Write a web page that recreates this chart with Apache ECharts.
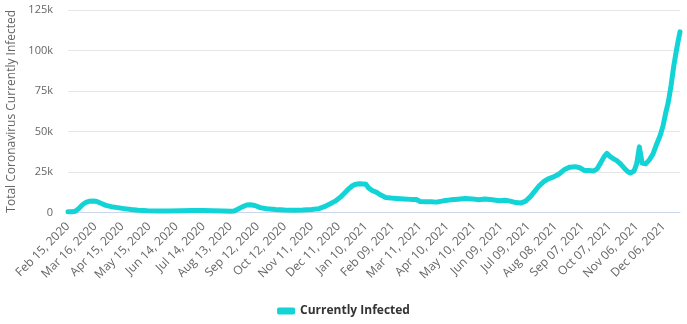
<!DOCTYPE html>
<html>
<head>
<meta charset="utf-8">
<script src="https://cdn.jsdelivr.net/npm/echarts@6/dist/echarts.min.js"></script>
<style>
html,body{margin:0;padding:0;background:#fff;}
#chart{width:687px;height:324px;}
</style>
</head>
<body>
<div id="chart"></div>
<script>
const startDate = '2020-02-15';
const endDate = '2021-12-24';
const tickLabels = ['Feb 15, 2020','Mar 16, 2020','Apr 15, 2020','May 15, 2020','Jun 14, 2020','Jul 14, 2020','Aug 13, 2020','Sep 12, 2020','Oct 12, 2020','Nov 11, 2020','Dec 11, 2020','Jan 10, 2021','Feb 09, 2021','Mar 11, 2021','Apr 10, 2021','May 10, 2021','Jun 09, 2021','Jul 09, 2021','Aug 08, 2021','Sep 07, 2021','Oct 07, 2021','Nov 06, 2021','Dec 06, 2021'];
const yTicks = [0, 25000, 50000, 75000, 100000, 125000];
const seriesName = 'Currently Infected';
const sampleDates = ['2020-02-15','2020-02-20','2020-02-23','2020-02-27','2020-03-02','2020-03-06','2020-03-10','2020-03-14','2020-03-18','2020-03-23','2020-03-28','2020-04-03','2020-04-10','2020-04-17','2020-04-25','2020-05-03','2020-05-13','2020-05-25','2020-06-06','2020-06-19','2020-07-02','2020-07-14','2020-07-24','2020-08-05','2020-08-13','2020-08-17','2020-08-21','2020-08-26','2020-08-31','2020-09-04','2020-09-09','2020-09-15','2020-09-22','2020-10-02','2020-10-12','2020-10-22','2020-11-01','2020-11-11','2020-11-19','2020-11-25','2020-12-01','2020-12-07','2020-12-13','2020-12-18','2020-12-22','2020-12-26','2020-12-30','2021-01-03','2021-01-07','2021-01-10','2021-01-13','2021-01-17','2021-01-22','2021-01-27','2021-02-01','2021-02-07','2021-02-13','2021-02-21','2021-03-01','2021-03-07','2021-03-11','2021-03-17','2021-03-23','2021-03-29','2021-04-06','2021-04-14','2021-04-22','2021-04-30','2021-05-08','2021-05-15','2021-05-22','2021-05-30','2021-06-07','2021-06-13','2021-06-19','2021-06-25','2021-07-01','2021-07-06','2021-07-11','2021-07-16','2021-07-21','2021-07-26','2021-07-31','2021-08-06','2021-08-12','2021-08-18','2021-08-24','2021-08-30','2021-09-04','2021-09-09','2021-09-14','2021-09-19','2021-09-23','2021-09-27','2021-10-01','2021-10-04','2021-10-07','2021-10-11','2021-10-15','2021-10-19','2021-10-23','2021-10-27','2021-10-30','2021-11-03','2021-11-06','2021-11-09','2021-11-12','2021-11-16','2021-11-20','2021-11-24','2021-11-28','2021-12-02','2021-12-05','2021-12-08','2021-12-11','2021-12-14','2021-12-17','2021-12-20','2021-12-22','2021-12-24'];
const infected = [500,500,800,2500,4800,6300,7000,7100,6800,5600,4400,3600,3000,2400,1800,1400,1100,1000,1000,1100,1300,1200,1100,1000,800,900,2000,3500,4600,4800,4300,3000,2300,1800,1500,1400,1500,1800,2400,3600,5200,7000,9500,12300,14600,16500,17500,17800,17600,17400,15200,13600,12400,10600,9300,8900,8700,8400,8100,8000,6800,6600,6700,6400,7200,7800,8200,8600,8400,7900,8300,7900,7300,7600,7000,6100,5900,7000,9600,13000,16500,19000,20800,22000,23800,26500,28000,28300,27600,26000,25900,25600,26800,30500,34500,36500,34800,33300,32000,30000,27500,25300,24400,25600,30000,40500,30500,30000,32500,36000,42000,47500,53000,61000,68000,78000,90000,100000,106000,111500];

const DAY = 86400000;
function toMs(s){ const p = s.split('-').map(Number); return Date.UTC(p[0], p[1]-1, p[2]); }
const t0 = toMs(startDate);
function dayIndex(s){ return Math.round((toMs(s) - t0) / DAY); }
const data = sampleDates.map((d, i) => [dayIndex(d), infected[i]]);
const TICK_STEP = 30;

const chart = echarts.init(document.getElementById('chart'), null, {renderer: 'canvas'});
chart.setOption({
  animation: false,
  backgroundColor: '#ffffff',
  grid: {left: 68, right: 7, top: 10, bottom: 111.5, containLabel: false, outerBoundsMode: 'none'},
  xAxis: {
    type: 'value',
    min: 0,
    max: dayIndex(endDate),
    interval: TICK_STEP,
    axisLine: {show: true, lineStyle: {color: '#ccd6eb', width: 1}},
    axisTick: {show: false},
    splitLine: {show: false},
    axisLabel: {
      rotate: 45,
      margin: 12,
      color: '#666666',
      fontSize: 12,
      fontFamily: 'Open Sans',
      showMaxLabel: false,
      formatter: function(v){
        if (v % TICK_STEP !== 0) return '';
        return tickLabels[v / TICK_STEP] || '';
      }
    }
  },
  yAxis: {
    type: 'value',
    min: yTicks[0],
    max: yTicks[yTicks.length-1],
    interval: yTicks[1] - yTicks[0],
    name: 'Total Coronavirus Currently Infected',
    nameLocation: 'middle',
    nameGap: 49,
    nameTextStyle: {color: '#666666', fontSize: 12, fontFamily: 'Open Sans'},
    axisLine: {show: false},
    axisTick: {show: false},
    splitLine: {lineStyle: {color: '#e6e6e6', width: 1}},
    axisLabel: {
      margin: 15,
      color: '#666666',
      fontSize: 11,
      fontFamily: 'Open Sans',
      formatter: function(v){ return v === 0 ? '0' : (v / 1000) + 'k'; }
    }
  },
  legend: {
    bottom: 2,
    left: 'center',
    itemWidth: 18,
    itemHeight: 7,
    itemGap: 10,
    icon: 'roundRect',
    textStyle: {color: '#333333', fontSize: 12, fontWeight: 'bold', fontFamily: 'Open Sans'},
    data: [seriesName]
  },
  series: [{
    name: seriesName,
    type: 'line',
    data: data,
    symbol: 'none',
    smooth: false,
    lineStyle: {color: '#12d3d6', width: 5, join: 'round', cap: 'round'},
    itemStyle: {color: '#12d3d6'}
  }]
});
</script>
</body>
</html>
